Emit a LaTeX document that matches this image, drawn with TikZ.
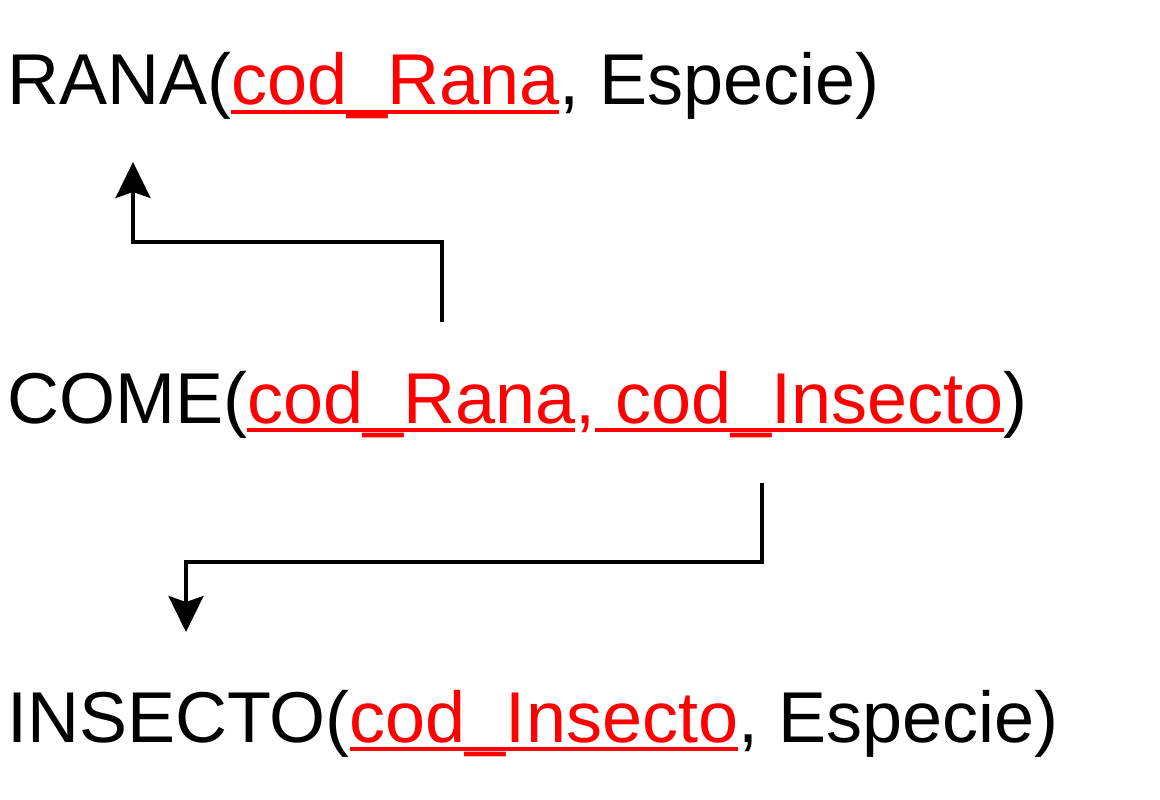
\documentclass[tikz,border=0pt]{standalone}
\usepackage{fontspec}
\setmainfont{Liberation Sans}
\usetikzlibrary{arrows.meta}
\definecolor{keyred}{RGB}{255,0,0}
\newcommand\keyul[1]{{\color{keyred}\setbox0\hbox{#1}\rlap{\vrule height -0.075em depth 0.12em width \wd0}\box0}}

\begin{document}
\begin{tikzpicture}[x=1pt, y=-1pt,
		relation/.style={anchor=base west, inner sep=0pt, font=\fontsize{72pt}{80pt}\selectfont},
		fk/.style={line width=3.4pt, -{Stealth[length=36pt, width=35pt, inset=6pt]}}]
			%%%%% START %%%%%
			
			\useasboundingbox (0, 0) rectangle (1160, 800);
			
			\node[relation] (rana) at (7, 105) {RANA(\keyul{cod\_Rana}, Especie)};
			\node[relation] (come) at (7, 423) {COME(\keyul{cod\_Rana}{\color{keyred},}\keyul{\ cod\_Insecto})};
			\node[relation] (insecto) at (7, 742) {INSECTO(\keyul{cod\_Insecto}, Especie)};
			
			\coordinate (comeRana) at (442, 322);
			\coordinate (ranaKey) at (133, 162);
			\coordinate (comeInsecto) at (762, 483);
			\coordinate (insectoKey) at (186, 632);
			
			\draw[fk] (comeRana) -- ++(0, -80) -| (ranaKey);
			\draw[fk] (comeInsecto) -- ++(0, 79) -| (insectoKey);
			
			%%%%% END %%%%%
		\end{tikzpicture}
\end{document}
